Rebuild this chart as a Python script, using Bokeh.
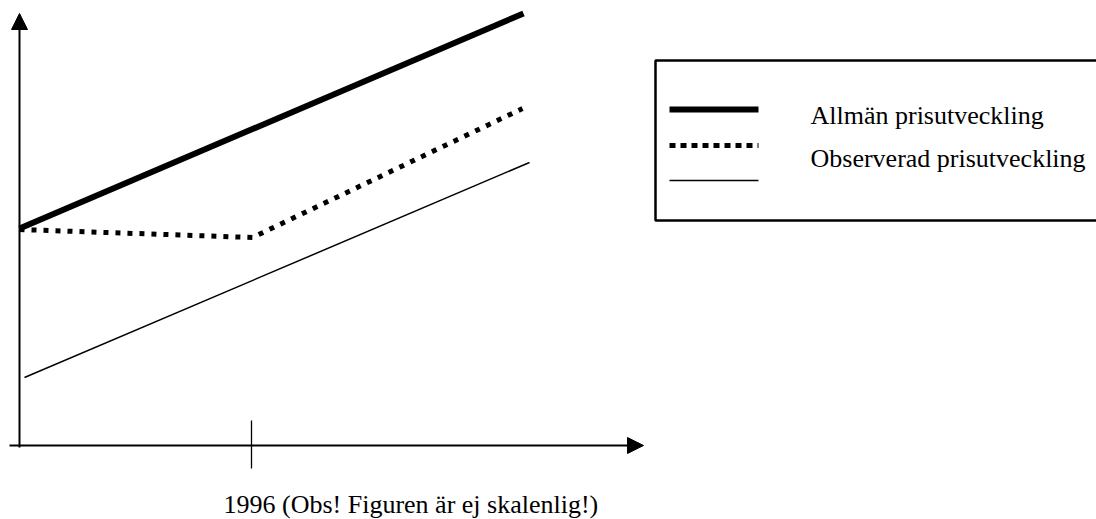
from bokeh.plotting import figure
from bokeh.models import Range1d, Arrow, NormalHead
from bokeh.core.properties import value
from bokeh.embed import file_html
from bokeh.resources import INLINE

# --- data (origin = axis crossing; units arbitrary) ---
allman_x = [0, 504]
allman_y = [217, 432]
observ_x = [0, 233, 503]
observ_y = [216, 208, 337]
third_x = [5, 510]
third_y = [68, 283]

tick_x = 232
tick_label = "1996 (Obs! Figuren är ej skalenlig!)"

legend_labels = ["Allmän prisutveckling", "Observerad prisutveckling"]

FONT = value("Liberation Serif")

p = figure(width=1096, height=519, output_backend="svg", toolbar_location=None,
           x_range=Range1d(-19, 1077), y_range=Range1d(-74, 445),
           min_border=0, outline_line_color=None, background_fill_color="white",
           border_fill_color="white")
p.xaxis.visible = False
p.yaxis.visible = False
p.xgrid.visible = False
p.ygrid.visible = False

# axes as arrows
p.add_layout(Arrow(end=NormalHead(size=16, fill_color="black", line_color="black"),
                   x_start=0, y_start=-2, x_end=0, y_end=432,
                   line_width=2, line_color="black"))
p.add_layout(Arrow(end=NormalHead(size=16, fill_color="black", line_color="black"),
                   x_start=-10, y_start=0, x_end=624, y_end=0,
                   line_width=2, line_color="black"))
# tick at 1996
p.segment(x0=[tick_x], y0=[25], x1=[tick_x], y1=[-23], line_color="black", line_width=1.3)
p.text(x=[204], y=[-59], text=[tick_label], text_font=FONT, text_font_size="26px",
       text_baseline="alphabetic", text_align="left", text_color="black")

# series
p.line(allman_x, allman_y, line_color="black", line_width=6)
p.line(observ_x, observ_y, line_color="black", line_width=5, line_dash="5 7")
p.line(third_x, third_y, line_color="black", line_width=1.5)

# legend box
p.quad(left=[636], right=[1120], top=[385], bottom=[225], fill_color=None,
       line_color="black", line_width=2.5)
p.line([650, 739], [336, 336], line_color="black", line_width=6)
p.line([650, 739], [300, 300], line_color="black", line_width=5, line_dash="6 5")
p.line([650, 739], [265, 265], line_color="black", line_width=1.5)
p.text(x=[791, 791], y=[330, 287], text=legend_labels, text_font=FONT,
       text_font_size="26px", text_baseline="alphabetic", text_align="left",
       text_color="black")

open("out.html", "w").write(file_html(p, INLINE))
